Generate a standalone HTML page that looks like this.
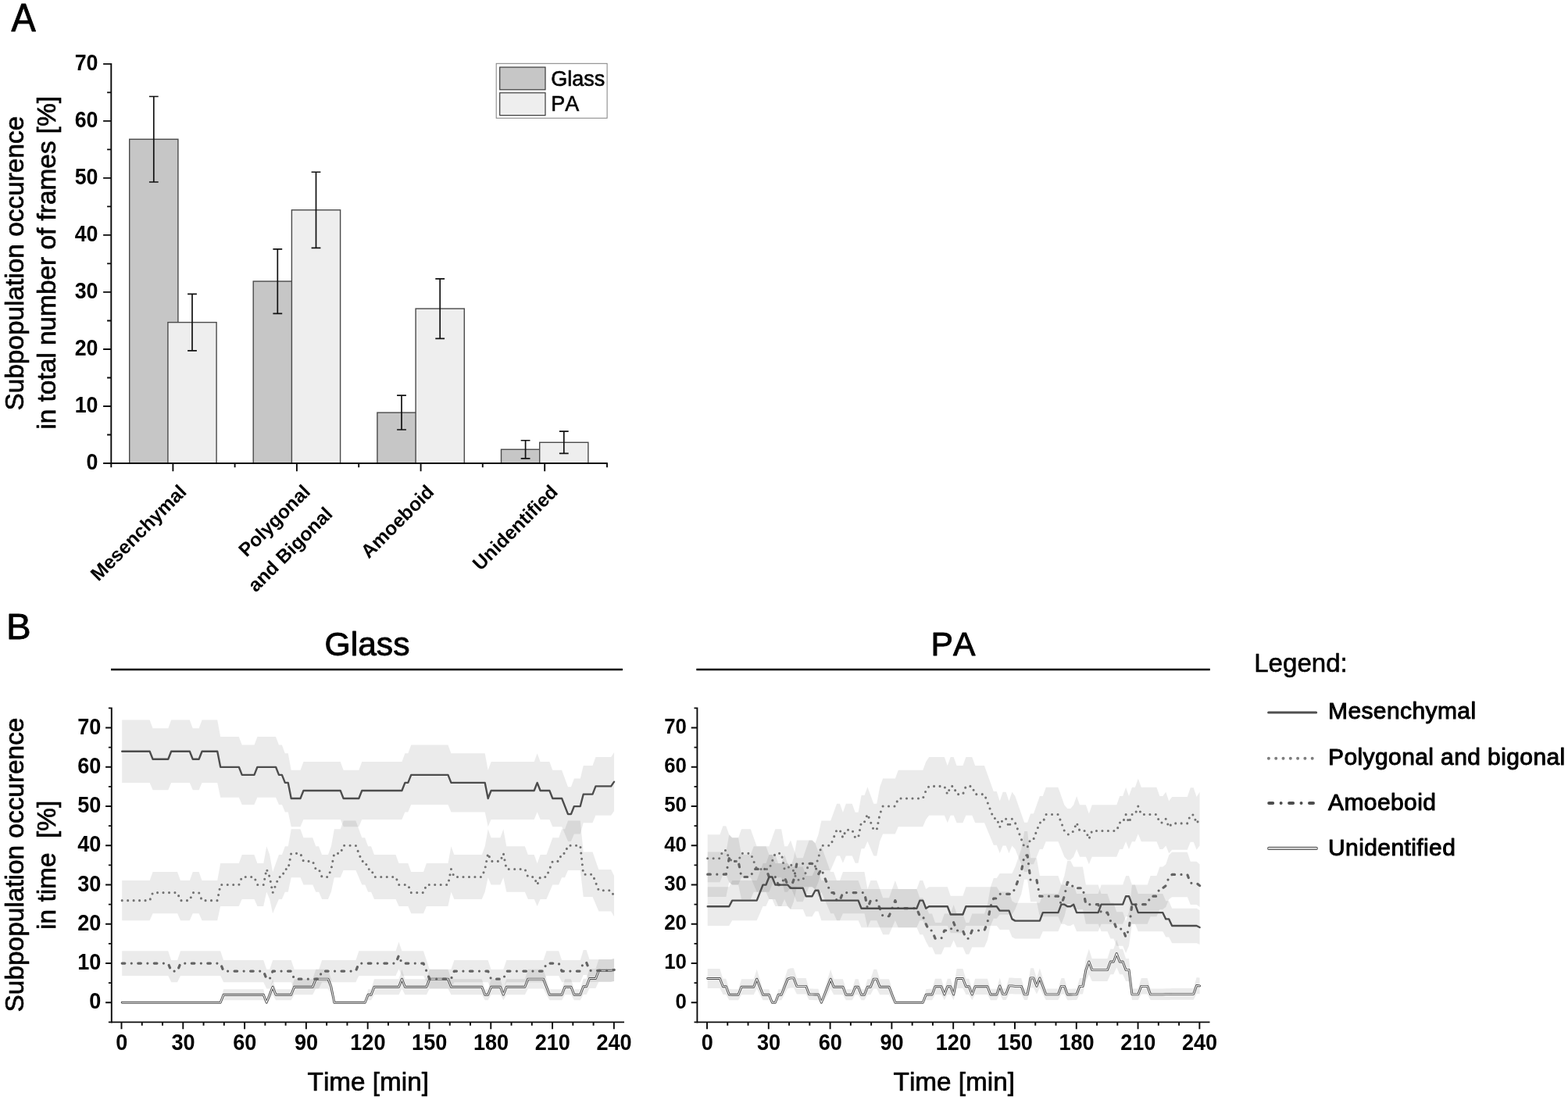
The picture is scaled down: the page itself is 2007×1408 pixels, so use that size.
<!DOCTYPE html>
<html lang="en">
<head>
<meta charset="utf-8">
<title>Subpopulation occurence</title>
<style>
html,body{margin:0;padding:0;background:#fff;}
body{width:2007px;height:1408px;overflow:hidden;}
svg{display:block;}
svg text{font-family:'Liberation Sans', Arial, Helvetica, sans-serif;fill:#000;font-kerning:none;}
</style>
</head>
<body>
<svg width="2007" height="1408" viewBox="0 0 2007 1408">
<rect width="2007" height="1408" fill="#fff"/>
<g id="panelA">
<text transform="translate(14.6 39.6) scale(1 1.05)" font-size="46.8" stroke="#000" stroke-width="0.8" stroke-linejoin="round">A</text>
<text transform="translate(30.1 337.2) rotate(-90)" font-size="33.4" text-anchor="middle" stroke="#000" stroke-width="0.7" stroke-linejoin="round">Subpopulation occurence</text>
<text transform="translate(71.1 336.3) rotate(-90)" font-size="33.4" text-anchor="middle" stroke="#000" stroke-width="0.7" stroke-linejoin="round">in total number of frames [%]</text>
<rect x="165.7" y="178.25" width="62.2" height="414.7" fill="#c6c6c6" stroke="#4a4a4a" stroke-width="1.4"/>
<rect x="214.9" y="412.62" width="62.2" height="180.33" fill="#eeeeee" stroke="#4a4a4a" stroke-width="1.4"/>
<rect x="324.2" y="360.05" width="62.2" height="232.9" fill="#c6c6c6" stroke="#4a4a4a" stroke-width="1.4"/>
<rect x="373.4" y="268.79" width="62.2" height="324.16" fill="#eeeeee" stroke="#4a4a4a" stroke-width="1.4"/>
<rect x="482.9" y="528.12" width="62.2" height="64.83" fill="#c6c6c6" stroke="#4a4a4a" stroke-width="1.4"/>
<rect x="532.1" y="395.09" width="62.2" height="197.86" fill="#eeeeee" stroke="#4a4a4a" stroke-width="1.4"/>
<rect x="641.5" y="575.28" width="62.2" height="17.67" fill="#c6c6c6" stroke="#4a4a4a" stroke-width="1.4"/>
<rect x="690.7" y="566.3" width="62.2" height="26.65" fill="#eeeeee" stroke="#4a4a4a" stroke-width="1.4"/>
<path d="M196.8 123.5V233.01M190.9 123.5h11.8M190.9 233.01h11.8M246 376.33V448.9M240.1 376.33h11.8M240.1 448.9h11.8M355.3 318.8V401.3M349.4 318.8h11.8M349.4 401.3h11.8M404.5 220.23V317.34M398.6 220.23h11.8M398.6 317.34h11.8M514 506.21V550.02M508.1 506.21h11.8M508.1 550.02h11.8M563.2 356.91V433.28M557.3 356.91h11.8M557.3 433.28h11.8M672.6 563.75V586.82M666.7 563.75h11.8M666.7 586.82h11.8M721.8 552.14V580.47M715.9 552.14h11.8M715.9 580.47h11.8" stroke="#111" stroke-width="1.7" fill="none"/>
<text transform="translate(125.5 600.6) scale(1 1.07)" font-size="26.8" text-anchor="end" font-weight="bold">0</text>
<text transform="translate(125.5 527.59) scale(1 1.07)" font-size="26.8" text-anchor="end" font-weight="bold">10</text>
<text transform="translate(125.5 454.58) scale(1 1.07)" font-size="26.8" text-anchor="end" font-weight="bold">20</text>
<text transform="translate(125.5 381.57) scale(1 1.07)" font-size="26.8" text-anchor="end" font-weight="bold">30</text>
<text transform="translate(125.5 308.56) scale(1 1.07)" font-size="26.8" text-anchor="end" font-weight="bold">40</text>
<text transform="translate(125.5 235.55) scale(1 1.07)" font-size="26.8" text-anchor="end" font-weight="bold">50</text>
<text transform="translate(125.5 162.54) scale(1 1.07)" font-size="26.8" text-anchor="end" font-weight="bold">60</text>
<text transform="translate(125.5 89.53) scale(1 1.07)" font-size="26.8" text-anchor="end" font-weight="bold">70</text>
<path d="M142.3 80.93V593.9M132.1 592.95H777.8M132.1 592.95H142.3M132.1 519.94H142.3M132.1 446.93H142.3M132.1 373.92H142.3M132.1 300.91H142.3M132.1 227.9H142.3M132.1 154.89H142.3M132.1 81.88H142.3M137.1 556.45H142.3M137.1 483.44H142.3M137.1 410.43H142.3M137.1 337.42H142.3M137.1 264.41H142.3M137.1 191.4H142.3M137.1 118.39H142.3M221.4 592.95v10.2M379.9 592.95v10.2M538.6 592.95v10.2M697.2 592.95v10.2M142.3 592.95v5.2M300.6 592.95v5.2M459.2 592.95v5.2M617.8 592.95v5.2M777.0 592.95v5.2" stroke="#0a0a0a" stroke-width="1.9" fill="none"/>
<text transform="translate(240 631) rotate(-45)" font-size="24.6" text-anchor="end" font-weight="bold">Mesenchymal</text>
<text transform="translate(398.5 631) rotate(-45)" font-size="24.6" text-anchor="end" font-weight="bold">Polygonal</text>
<text transform="translate(427 659.5) rotate(-45)" font-size="24.6" text-anchor="end" font-weight="bold">and Bigonal</text>
<text transform="translate(557 631) rotate(-45)" font-size="24.6" text-anchor="end" font-weight="bold">Amoeboid</text>
<text transform="translate(715.5 631) rotate(-45)" font-size="24.6" text-anchor="end" font-weight="bold">Unidentified</text>
<rect x="635.2" y="81.3" width="141.9" height="69.9" fill="#fff" stroke="#7f7f7f" stroke-width="1"/>
<rect x="639.7" y="86" width="58.3" height="28.8" fill="#c6c6c6" stroke="#3a3a3a" stroke-width="1.2"/>
<rect x="639.7" y="118.8" width="58.3" height="28.8" fill="#eeeeee" stroke="#3a3a3a" stroke-width="1.2"/>
<text transform="translate(705.2 109.6)" font-size="27" stroke="#000" stroke-width="0.6" stroke-linejoin="round">Glass</text>
<text transform="translate(705.2 142.2)" font-size="27" stroke="#000" stroke-width="0.6" stroke-linejoin="round">PA</text>
</g>
<g id="panelB">
<text transform="translate(7.9 818) scale(1 0.99)" font-size="47.5" stroke="#000" stroke-width="0.8" stroke-linejoin="round">B</text>
<text transform="translate(30.1 1107) rotate(-90)" font-size="33.4" text-anchor="middle" stroke="#000" stroke-width="0.7" stroke-linejoin="round">Subpopulation occurence</text>
<text transform="translate(71.1 1107.3) rotate(-90)" font-size="33.4" text-anchor="middle" stroke="#000" stroke-width="0.7" stroke-linejoin="round" xml:space="preserve">in time  [%]</text>
<g>
<text transform="translate(470 839)" font-size="42.6" text-anchor="middle" stroke="#000" stroke-width="0.9" stroke-linejoin="round">Glass</text>
<path d="M142 857H797" stroke="#000" stroke-width="2.3" fill="none"/>
<polygon points="156.2,921.5 191.63,921.5 195.57,932.18 215.25,932.18 219.19,921.5 242.81,921.5 246.74,932.18 254.62,932.18 258.55,921.5 278.23,921.5 282.17,942.88 305.79,942.88 309.73,953.58 325.47,953.58 329.41,942.88 353.03,942.88 356.97,953.58 360.9,953.58 364.84,964.3 368.78,964.3 372.71,985.76 384.52,985.76 388.46,975.02 435.7,975.02 439.64,985.76 459.32,985.76 463.25,975.02 514.43,975.02 518.37,964.3 522.3,964.3 526.24,953.58 573.48,953.58 577.42,964.3 620.72,964.3 624.66,985.76 628.59,975.02 683.7,975.02 687.64,964.3 691.58,975.02 703.39,975.02 707.32,985.76 719.13,985.76 723.07,996.52 727.01,1007.29 730.94,1007.29 734.88,996.52 742.75,996.52 746.69,980.07 758.5,980.07 762.44,969.12 782.12,969.12 786.06,962.96 786.06,1038.33 782.12,1043.72 762.44,1043.72 758.5,1053.28 746.69,1053.28 742.75,1067.58 734.88,1067.58 730.94,1076.91 727.01,1076.91 723.07,1067.58 719.13,1058.24 707.32,1058.24 703.39,1048.88 691.58,1048.88 687.64,1039.5 683.7,1048.88 628.59,1048.88 624.66,1058.24 620.72,1039.5 577.42,1039.5 573.48,1030.12 526.24,1030.12 522.3,1039.5 518.37,1039.5 514.43,1048.88 463.25,1048.88 459.32,1058.24 439.64,1058.24 435.7,1048.88 388.46,1048.88 384.52,1058.24 372.71,1058.24 368.78,1039.5 364.84,1039.5 360.9,1030.12 356.97,1030.12 353.03,1020.72 329.41,1020.72 325.47,1030.12 309.73,1030.12 305.79,1020.72 282.17,1020.72 278.23,1001.9 258.55,1001.9 254.62,1011.32 246.74,1011.32 242.81,1001.9 219.19,1001.9 215.25,1011.32 195.57,1011.32 191.63,1001.9 156.2,1001.9" fill="#000" fill-opacity="0.078"/>
<polygon points="156.2,1127.03 191.63,1127.03 195.57,1116.01 227.06,1116.01 231,1127.03 242.81,1127.03 246.74,1116.01 254.62,1116.01 258.55,1127.03 278.23,1127.03 282.17,1105.03 305.79,1105.03 309.73,1094.07 325.47,1094.07 329.41,1105.03 337.28,1105.03 341.22,1083.15 345.16,1094.07 349.09,1116.01 353.03,1105.03 356.97,1094.07 360.9,1094.07 364.84,1083.15 368.78,1083.15 372.71,1061.37 384.52,1061.37 388.46,1072.25 400.27,1072.25 404.21,1083.15 408.14,1083.15 412.08,1094.07 419.95,1094.07 423.89,1083.15 427.83,1061.37 435.7,1061.37 439.64,1050.52 455.38,1050.52 459.32,1061.37 463.25,1072.25 467.19,1072.25 471.13,1083.15 475.06,1083.15 479,1094.07 506.56,1094.07 510.49,1105.03 522.3,1105.03 526.24,1116.01 541.99,1116.01 545.92,1105.03 573.48,1105.03 577.42,1083.15 581.35,1094.07 616.78,1094.07 620.72,1083.15 624.66,1061.37 628.59,1072.25 640.4,1072.25 644.34,1061.37 648.27,1083.15 671.89,1083.15 675.83,1094.07 683.7,1094.07 687.64,1105.03 691.58,1094.07 699.45,1094.07 703.39,1083.15 707.32,1072.25 715.2,1072.25 719.13,1061.37 723.07,1061.37 727.01,1050.52 742.75,1050.52 746.69,1090.52 758.5,1090.52 762.44,1101.68 766.37,1112.88 782.12,1112.88 786.06,1121.07 786.06,1173.37 782.12,1166.59 766.37,1166.59 762.44,1157.29 758.5,1147.95 746.69,1147.95 742.75,1114.08 727.01,1114.08 723.07,1123.33 719.13,1123.33 715.2,1132.55 707.32,1132.55 703.39,1141.75 699.45,1150.93 691.58,1150.93 687.64,1160.07 683.7,1150.93 675.83,1150.93 671.89,1141.75 648.27,1141.75 644.34,1123.33 640.4,1132.55 628.59,1132.55 624.66,1123.33 620.72,1141.75 616.78,1150.93 581.35,1150.93 577.42,1141.75 573.48,1160.07 545.92,1160.07 541.99,1169.19 526.24,1169.19 522.3,1160.07 510.49,1160.07 506.56,1150.93 479,1150.93 475.06,1141.75 471.13,1141.75 467.19,1132.55 463.25,1132.55 459.32,1123.33 455.38,1114.08 439.64,1114.08 435.7,1123.33 427.83,1123.33 423.89,1141.75 419.95,1150.93 412.08,1150.93 408.14,1141.75 404.21,1141.75 400.27,1132.55 388.46,1132.55 384.52,1123.33 372.71,1123.33 368.78,1141.75 364.84,1141.75 360.9,1150.93 356.97,1150.93 353.03,1160.07 349.09,1169.19 345.16,1150.93 341.22,1141.75 337.28,1160.07 329.41,1160.07 325.47,1150.93 309.73,1150.93 305.79,1160.07 282.17,1160.07 278.23,1178.27 258.55,1178.27 254.62,1169.19 246.74,1169.19 242.81,1178.27 231,1178.27 227.06,1169.19 195.57,1169.19 191.63,1178.27 156.2,1178.27" fill="#000" fill-opacity="0.078"/>
<polygon points="156.2,1217.16 215.25,1217.16 219.19,1228.89 227.06,1228.89 231,1217.16 282.17,1217.16 286.11,1228.89 337.28,1228.89 341.22,1240.84 345.16,1240.84 349.09,1228.89 372.71,1228.89 376.65,1240.84 408.14,1240.84 412.08,1228.89 455.38,1228.89 459.32,1217.16 506.56,1217.16 510.49,1205.59 514.43,1217.16 541.99,1217.16 545.92,1228.89 549.86,1240.84 577.42,1240.84 581.35,1228.89 624.66,1228.89 628.59,1240.84 644.34,1240.84 648.27,1228.89 695.51,1228.89 699.45,1217.16 715.2,1217.16 719.13,1228.89 742.75,1228.89 746.69,1216 750.63,1216 754.56,1227.94 782.12,1227.94 786.06,1226.94 786.06,1255.94 782.12,1256.65 754.56,1256.65 750.63,1248.09 746.69,1248.09 742.75,1257.31 719.13,1257.31 715.2,1248.94 699.45,1248.94 695.51,1257.31 648.27,1257.31 644.34,1265.46 628.59,1265.46 624.66,1257.31 581.35,1257.31 577.42,1265.46 549.86,1265.46 545.92,1257.31 541.99,1248.94 514.43,1248.94 510.49,1240.41 506.56,1248.94 459.32,1248.94 455.38,1257.31 412.08,1257.31 408.14,1265.46 376.65,1265.46 372.71,1257.31 349.09,1257.31 345.16,1265.46 341.22,1265.46 337.28,1257.31 286.11,1257.31 282.17,1248.94 231,1248.94 227.06,1257.31 219.19,1257.31 215.25,1248.94 156.2,1248.94" fill="#000" fill-opacity="0.078"/>
<polygon points="156.2,1283.3 282.17,1283.3 286.11,1266.14 337.28,1266.14 341.22,1283.3 345.16,1266.14 349.09,1253.15 353.03,1266.14 372.71,1266.14 376.65,1253.15 400.27,1253.15 404.21,1240.84 419.95,1240.84 423.89,1253.15 427.83,1283.3 467.19,1283.3 471.13,1266.14 475.06,1266.14 479,1253.15 510.49,1253.15 514.43,1240.84 518.37,1253.15 545.92,1253.15 549.86,1240.84 573.48,1240.84 577.42,1253.15 616.78,1253.15 620.72,1266.14 624.66,1266.14 628.59,1253.15 640.4,1253.15 644.34,1266.14 648.27,1253.15 671.89,1253.15 675.83,1240.84 695.51,1240.84 699.45,1253.15 703.39,1266.14 719.13,1266.14 723.07,1253.15 730.94,1253.15 734.88,1266.14 742.75,1266.14 746.69,1252.65 750.63,1252.65 754.56,1240.12 762.44,1240.12 766.37,1227.94 782.12,1227.94 786.06,1226.94 786.06,1255.94 782.12,1256.65 766.37,1256.65 762.44,1264.98 754.56,1264.98 750.63,1272.95 746.69,1272.95 742.75,1280.36 734.88,1280.36 730.94,1273.25 723.07,1273.25 719.13,1280.36 703.39,1280.36 699.45,1273.25 695.51,1265.46 675.83,1265.46 671.89,1273.25 648.27,1273.25 644.34,1280.36 640.4,1273.25 628.59,1273.25 624.66,1280.36 620.72,1280.36 616.78,1273.25 577.42,1273.25 573.48,1265.46 549.86,1265.46 545.92,1273.25 518.37,1273.25 514.43,1265.46 510.49,1273.25 479,1273.25 475.06,1280.36 471.13,1280.36 467.19,1283.3 427.83,1283.3 423.89,1273.25 419.95,1265.46 404.21,1265.46 400.27,1273.25 376.65,1273.25 372.71,1280.36 353.03,1280.36 349.09,1273.25 345.16,1280.36 341.22,1283.3 337.28,1280.36 286.11,1280.36 282.17,1283.3 156.2,1283.3" fill="#000" fill-opacity="0.078"/>
<polyline points="156.2,1152.65 191.63,1152.65 195.57,1142.6 227.06,1142.6 231,1152.65 242.81,1152.65 246.74,1142.6 254.62,1142.6 258.55,1152.65 278.23,1152.65 282.17,1132.55 305.79,1132.55 309.73,1122.5 325.47,1122.5 329.41,1132.55 337.28,1132.55 341.22,1112.45 345.16,1122.5 349.09,1142.6 356.97,1122.5 360.9,1122.5 364.84,1112.45 368.78,1112.45 372.71,1092.35 384.52,1092.35 388.46,1102.4 400.27,1102.4 404.21,1112.45 408.14,1112.45 412.08,1122.5 419.95,1122.5 423.89,1112.45 427.83,1092.35 435.7,1092.35 439.64,1082.3 455.38,1082.3 463.25,1102.4 467.19,1102.4 471.13,1112.45 475.06,1112.45 479,1122.5 506.56,1122.5 510.49,1132.55 522.3,1132.55 526.24,1142.6 541.99,1142.6 545.92,1132.55 573.48,1132.55 577.42,1112.45 581.35,1122.5 616.78,1122.5 620.72,1112.45 624.66,1092.35 628.59,1102.4 640.4,1102.4 644.34,1092.35 648.27,1112.45 671.89,1112.45 675.83,1122.5 683.7,1122.5 687.64,1132.55 691.58,1122.5 699.45,1122.5 707.32,1102.4 715.2,1102.4 719.13,1092.35 723.07,1092.35 727.01,1082.3 742.75,1082.3 746.69,1119.23 758.5,1119.23 766.37,1139.74 782.12,1139.74 786.06,1147.22" fill="none" stroke="#727272" stroke-width="3.1" stroke-linecap="round" stroke-linejoin="round" stroke-dasharray="0 7.46"/>
<polyline points="156.2,1283.3 282.17,1283.3 286.11,1273.25 337.28,1273.25 341.22,1283.3 349.09,1263.2 353.03,1273.25 372.71,1273.25 376.65,1263.2 400.27,1263.2 404.21,1253.15 419.95,1253.15 423.89,1263.2 427.83,1283.3 467.19,1283.3 471.13,1273.25 475.06,1273.25 479,1263.2 510.49,1263.2 514.43,1253.15 518.37,1263.2 545.92,1263.2 549.86,1253.15 573.48,1253.15 577.42,1263.2 616.78,1263.2 620.72,1273.25 624.66,1273.25 628.59,1263.2 640.4,1263.2 644.34,1273.25 648.27,1263.2 671.89,1263.2 675.83,1253.15 695.51,1253.15 703.39,1273.25 719.13,1273.25 723.07,1263.2 730.94,1263.2 734.88,1273.25 742.75,1273.25 746.69,1262.8 750.63,1262.8 754.56,1252.55 762.44,1252.55 766.37,1242.3 782.12,1242.3 786.06,1241.44" fill="none" stroke="#4a4a4a" stroke-width="2.9" stroke-linejoin="round" stroke-linecap="round"/>
<polyline points="156.2,1283.3 282.17,1283.3 286.11,1273.25 337.28,1273.25 341.22,1283.3 349.09,1263.2 353.03,1273.25 372.71,1273.25 376.65,1263.2 400.27,1263.2 404.21,1253.15 419.95,1253.15 423.89,1263.2 427.83,1283.3 467.19,1283.3 471.13,1273.25 475.06,1273.25 479,1263.2 510.49,1263.2 514.43,1253.15 518.37,1263.2 545.92,1263.2 549.86,1253.15 573.48,1253.15 577.42,1263.2 616.78,1263.2 620.72,1273.25 624.66,1273.25 628.59,1263.2 640.4,1263.2 644.34,1273.25 648.27,1263.2 671.89,1263.2 675.83,1253.15 695.51,1253.15 703.39,1273.25 719.13,1273.25 723.07,1263.2 730.94,1263.2 734.88,1273.25 742.75,1273.25 746.69,1262.8 750.63,1262.8 754.56,1252.55 762.44,1252.55 766.37,1242.3 782.12,1242.3 786.06,1241.44" fill="none" stroke="#f1f1f1" stroke-width="1.1" stroke-linejoin="round" stroke-linecap="round"/>
<polyline points="156.2,1233.05 215.25,1233.05 219.19,1243.1 227.06,1243.1 231,1233.05 282.17,1233.05 286.11,1243.1 337.28,1243.1 341.22,1253.15 345.16,1253.15 349.09,1243.1 372.71,1243.1 376.65,1253.15 408.14,1253.15 412.08,1243.1 455.38,1243.1 459.32,1233.05 506.56,1233.05 510.49,1223 514.43,1233.05 541.99,1233.05 549.86,1253.15 577.42,1253.15 581.35,1243.1 624.66,1243.1 628.59,1253.15 644.34,1253.15 648.27,1243.1 695.51,1243.1 699.45,1233.05 715.2,1233.05 719.13,1243.1 742.75,1243.1 746.69,1232.04 750.63,1232.04 754.56,1242.3 782.12,1242.3 786.06,1241.44" fill="none" stroke="#636363" stroke-width="3.2" stroke-linecap="round" stroke-linejoin="round" stroke-dasharray="3.65 8.45 0 8.45"/>
<polyline points="156.2,961.7 191.63,961.7 195.57,971.75 215.25,971.75 219.19,961.7 242.81,961.7 246.74,971.75 254.62,971.75 258.55,961.7 278.23,961.7 282.17,981.8 305.79,981.8 309.73,991.85 325.47,991.85 329.41,981.8 353.03,981.8 356.97,991.85 360.9,991.85 364.84,1001.9 368.78,1001.9 372.71,1022 384.52,1022 388.46,1011.95 435.7,1011.95 439.64,1022 459.32,1022 463.25,1011.95 514.43,1011.95 518.37,1001.9 522.3,1001.9 526.24,991.85 573.48,991.85 577.42,1001.9 620.72,1001.9 624.66,1022 628.59,1011.95 683.7,1011.95 687.64,1001.9 691.58,1011.95 703.39,1011.95 707.32,1022 719.13,1022 727.01,1042.1 730.94,1042.1 734.88,1032.05 742.75,1032.05 746.69,1016.67 758.5,1016.67 762.44,1006.42 782.12,1006.42 786.06,1000.64" fill="none" stroke="#4c4c4c" stroke-width="2.35" stroke-linejoin="round" stroke-linecap="round"/>
<text transform="translate(129.3 1291.4) scale(1 1.1)" font-size="27.1" text-anchor="end" font-weight="bold">0</text>
<text transform="translate(129.3 1241.15) scale(1 1.1)" font-size="27.1" text-anchor="end" font-weight="bold">10</text>
<text transform="translate(129.3 1190.9) scale(1 1.1)" font-size="27.1" text-anchor="end" font-weight="bold">20</text>
<text transform="translate(129.3 1140.65) scale(1 1.1)" font-size="27.1" text-anchor="end" font-weight="bold">30</text>
<text transform="translate(129.3 1090.4) scale(1 1.1)" font-size="27.1" text-anchor="end" font-weight="bold">40</text>
<text transform="translate(129.3 1040.15) scale(1 1.1)" font-size="27.1" text-anchor="end" font-weight="bold">50</text>
<text transform="translate(129.3 989.9) scale(1 1.1)" font-size="27.1" text-anchor="end" font-weight="bold">60</text>
<text transform="translate(129.3 939.65) scale(1 1.1)" font-size="27.1" text-anchor="end" font-weight="bold">70</text>
<path d="M142.8 905.47V1309.38M138.9 1308.42H798.99M135.1 1283.3H142.8M135.1 1233.05H142.8M135.1 1182.8H142.8M135.1 1132.55H142.8M135.1 1082.3H142.8M135.1 1032.05H142.8M135.1 981.8H142.8M135.1 931.55H142.8M138.9 1308.42H142.8M138.9 1258.17H142.8M138.9 1207.92H142.8M138.9 1157.67H142.8M138.9 1107.42H142.8M138.9 1057.17H142.8M138.9 1006.92H142.8M138.9 956.67H142.8M138.9 906.42H142.8M155.5 1308.42v8.9M181.76 1308.42v4.4M208.03 1308.42v4.4M234.3 1308.42v8.9M260.56 1308.42v4.4M286.82 1308.42v4.4M313.09 1308.42v8.9M339.36 1308.42v4.4M365.62 1308.42v4.4M391.88 1308.42v8.9M418.15 1308.42v4.4M444.42 1308.42v4.4M470.68 1308.42v8.9M496.94 1308.42v4.4M523.21 1308.42v4.4M549.48 1308.42v8.9M575.74 1308.42v4.4M602 1308.42v4.4M628.27 1308.42v8.9M654.54 1308.42v4.4M680.8 1308.42v4.4M707.07 1308.42v8.9M733.33 1308.42v4.4M759.6 1308.42v4.4M785.86 1308.42v8.9" stroke="#0a0a0a" stroke-width="1.9" fill="none"/>
<text transform="translate(155.7 1343.9) scale(1 1.1)" font-size="27.1" text-anchor="middle" font-weight="bold">0</text>
<text transform="translate(234.5 1343.9) scale(1 1.1)" font-size="27.1" text-anchor="middle" font-weight="bold">30</text>
<text transform="translate(313.29 1343.9) scale(1 1.1)" font-size="27.1" text-anchor="middle" font-weight="bold">60</text>
<text transform="translate(392.08 1343.9) scale(1 1.1)" font-size="27.1" text-anchor="middle" font-weight="bold">90</text>
<text transform="translate(470.88 1343.9) scale(1 1.1)" font-size="27.1" text-anchor="middle" font-weight="bold">120</text>
<text transform="translate(549.68 1343.9) scale(1 1.1)" font-size="27.1" text-anchor="middle" font-weight="bold">150</text>
<text transform="translate(628.47 1343.9) scale(1 1.1)" font-size="27.1" text-anchor="middle" font-weight="bold">180</text>
<text transform="translate(707.27 1343.9) scale(1 1.1)" font-size="27.1" text-anchor="middle" font-weight="bold">210</text>
<text transform="translate(786.06 1343.9) scale(1 1.1)" font-size="27.1" text-anchor="middle" font-weight="bold">240</text>
<text transform="translate(471.3 1395.5)" font-size="33.3" text-anchor="middle" stroke="#000" stroke-width="0.7" stroke-linejoin="round">Time [min]</text>
</g>
<g>
<text transform="translate(1220 839)" font-size="42.6" text-anchor="middle" stroke="#000" stroke-width="0.9" stroke-linejoin="round">PA</text>
<path d="M891.3 857H1548.8" stroke="#000" stroke-width="2.3" fill="none"/>
<polygon points="905.7,1135.37 933.26,1135.37 937.19,1127.03 968.69,1127.03 972.62,1116.01 976.56,1105.03 980.5,1105.03 984.43,1094.07 988.37,1094.07 992.31,1105.03 1008.05,1105.03 1011.99,1109.6 1027.73,1109.6 1031.67,1121.06 1039.54,1121.06 1043.48,1112.87 1047.42,1112.87 1051.35,1127.03 1098.59,1127.03 1102.53,1138.08 1173.39,1138.08 1177.33,1127.03 1181.26,1127.03 1185.2,1138.08 1189.14,1135.37 1212.75,1135.37 1216.69,1146.69 1232.44,1146.69 1236.37,1135.37 1275.74,1135.37 1279.68,1141.38 1291.49,1141.38 1295.42,1153.21 1299.36,1155.68 1330.85,1155.68 1334.79,1144.09 1354.47,1144.09 1358.41,1132.55 1362.35,1132.55 1366.28,1135.37 1370.22,1135.37 1374.16,1132.55 1378.09,1144.09 1405.65,1144.09 1409.58,1132.55 1437.14,1132.55 1441.08,1121.06 1445.01,1121.06 1448.95,1132.55 1452.89,1132.55 1456.82,1144.09 1488.32,1144.09 1492.25,1153.21 1496.19,1153.21 1500.13,1162.76 1531.62,1162.76 1535.56,1165.09 1535.56,1209.07 1531.62,1207.21 1500.13,1207.21 1496.19,1199.56 1492.25,1199.56 1488.32,1192.2 1456.82,1192.2 1452.89,1182.8 1448.95,1182.8 1445.01,1173.36 1441.08,1173.36 1437.14,1182.8 1409.58,1182.8 1405.65,1192.2 1378.09,1192.2 1374.16,1182.8 1370.22,1185.11 1366.28,1185.11 1362.35,1182.8 1358.41,1182.8 1354.47,1192.2 1334.79,1192.2 1330.85,1201.55 1299.36,1201.55 1295.42,1199.56 1291.49,1190 1279.68,1190 1275.74,1185.11 1236.37,1185.11 1232.44,1194.3 1216.69,1194.3 1212.75,1185.11 1189.14,1185.11 1185.2,1187.32 1181.26,1178.27 1177.33,1178.27 1173.39,1187.32 1102.53,1187.32 1098.59,1178.27 1051.35,1178.27 1047.42,1166.59 1043.48,1166.59 1039.54,1173.36 1031.67,1173.36 1027.73,1163.88 1011.99,1163.88 1008.05,1160.07 992.31,1160.07 988.37,1150.93 984.43,1150.93 980.5,1160.07 976.56,1160.07 972.62,1169.19 968.69,1178.27 937.19,1178.27 933.26,1185.11 905.7,1185.11" fill="#000" fill-opacity="0.078"/>
<polygon points="905.7,1068.25 921.45,1068.25 925.38,1057.16 929.32,1057.16 933.26,1068.25 937.19,1072.25 945.07,1072.25 949,1061.37 960.81,1061.37 964.75,1072.25 968.69,1083.15 984.43,1083.15 988.37,1072.25 992.31,1061.37 1000.18,1061.37 1004.12,1083.15 1008.05,1083.15 1011.99,1075.43 1015.92,1086.79 1019.86,1098.18 1027.73,1098.18 1031.67,1086.79 1035.61,1075.43 1039.54,1075.43 1043.48,1079.37 1047.42,1068.25 1051.35,1050.52 1063.16,1050.52 1067.1,1039.68 1071.04,1028.87 1074.97,1028.87 1078.91,1039.68 1082.85,1028.87 1090.72,1028.87 1094.66,1039.68 1098.59,1039.68 1102.53,1018.07 1106.47,1018.07 1110.4,1007.29 1114.34,1018.07 1118.28,1028.87 1122.21,1028.87 1126.15,1007.29 1130.09,996.52 1145.83,996.52 1149.77,985.76 1181.26,985.76 1185.2,975.02 1189.14,969.11 1208.82,969.11 1212.75,980.06 1216.69,969.11 1220.63,969.11 1224.56,980.06 1232.44,980.06 1236.37,969.11 1244.25,969.11 1248.18,980.06 1259.99,980.06 1263.93,991.03 1267.87,1002.01 1271.8,1013.01 1275.74,1013.01 1279.68,1025.19 1283.61,1013.71 1287.55,1013.71 1291.49,1025.19 1295.42,1013.71 1299.36,1018.97 1303.3,1030.22 1307.23,1041.49 1311.17,1052.78 1315.11,1052.78 1319.04,1041.49 1322.98,1041.49 1326.92,1030.22 1330.85,1018.97 1334.79,1018.97 1338.73,1007.73 1354.47,1007.73 1358.41,1018.97 1362.35,1030.22 1366.28,1035.05 1370.22,1035.05 1374.16,1030.22 1378.09,1018.97 1382.03,1030.22 1389.9,1030.22 1393.84,1041.49 1397.78,1030.22 1429.27,1030.22 1433.2,1018.97 1437.14,1018.97 1441.08,1007.73 1445.01,1018.97 1448.95,1007.73 1452.89,1007.73 1456.82,996.52 1460.76,1007.73 1480.44,1007.73 1484.38,1018.97 1488.32,1018.97 1492.25,1013.71 1496.19,1025.19 1500.13,1019.95 1519.81,1019.95 1523.75,1008.22 1527.68,1008.22 1531.62,1019.95 1535.56,1013.71 1535.56,1082.47 1531.62,1087.85 1527.68,1077.73 1523.75,1077.73 1519.81,1087.85 1500.13,1087.85 1496.19,1092.37 1492.25,1082.47 1488.32,1087.01 1484.38,1087.01 1480.44,1077.3 1460.76,1077.3 1456.82,1067.58 1452.89,1077.3 1448.95,1077.3 1445.01,1087.01 1441.08,1077.3 1437.14,1087.01 1433.2,1087.01 1429.27,1096.69 1397.78,1096.69 1393.84,1106.36 1389.9,1096.69 1382.03,1096.69 1378.09,1087.01 1374.16,1096.69 1370.22,1100.84 1366.28,1100.84 1362.35,1096.69 1358.41,1087.01 1354.47,1077.3 1338.73,1077.3 1334.79,1087.01 1330.85,1087.01 1326.92,1096.69 1322.98,1106.36 1319.04,1106.36 1315.11,1116.01 1311.17,1116.01 1307.23,1106.36 1303.3,1096.69 1299.36,1087.01 1295.42,1082.47 1291.49,1092.37 1287.55,1082.47 1283.61,1082.47 1279.68,1092.37 1275.74,1081.86 1271.8,1081.86 1267.87,1072.35 1263.93,1062.82 1259.99,1053.27 1248.18,1053.27 1244.25,1043.71 1236.37,1043.71 1232.44,1053.27 1224.56,1053.27 1220.63,1043.71 1216.69,1043.71 1212.75,1053.27 1208.82,1043.71 1189.14,1043.71 1185.2,1048.88 1181.26,1058.24 1149.77,1058.24 1145.83,1067.58 1130.09,1067.58 1126.15,1076.91 1122.21,1095.53 1118.28,1095.53 1114.34,1086.23 1110.4,1076.91 1106.47,1086.23 1102.53,1086.23 1098.59,1104.82 1094.66,1104.82 1090.72,1095.53 1082.85,1095.53 1078.91,1104.82 1074.97,1095.53 1071.04,1095.53 1067.1,1104.82 1063.16,1114.08 1051.35,1114.08 1047.42,1129.16 1043.48,1138.56 1039.54,1135.24 1035.61,1135.24 1031.67,1144.81 1027.73,1154.36 1019.86,1154.36 1015.92,1144.81 1011.99,1135.24 1008.05,1141.75 1004.12,1141.75 1000.18,1123.33 992.31,1123.33 988.37,1132.55 984.43,1141.75 968.69,1141.75 964.75,1132.55 960.81,1123.33 949,1123.33 945.07,1132.55 937.19,1132.55 933.26,1129.16 929.32,1119.74 925.38,1119.74 921.45,1129.16 905.7,1129.16" fill="#000" fill-opacity="0.078"/>
<polygon points="905.7,1090.5 929.32,1090.5 933.26,1068.25 937.19,1072.25 945.07,1072.25 949,1094.07 960.81,1094.07 964.75,1083.15 980.5,1083.15 984.43,1094.07 992.31,1094.07 996.24,1105.03 1000.18,1105.03 1004.12,1094.07 1008.05,1105.03 1011.99,1109.6 1015.92,1098.18 1019.86,1075.43 1039.54,1075.43 1043.48,1079.37 1047.42,1090.5 1051.35,1083.15 1055.29,1094.07 1059.23,1105.03 1063.16,1116.01 1067.1,1116.01 1071.04,1127.03 1074.97,1127.03 1078.91,1116.01 1106.47,1116.01 1110.4,1138.08 1114.34,1127.03 1122.21,1127.03 1126.15,1138.08 1130.09,1149.18 1137.96,1149.18 1141.9,1138.08 1145.83,1127.03 1149.77,1138.08 1173.39,1138.08 1177.33,1149.18 1181.26,1149.18 1185.2,1160.33 1189.14,1169.47 1193.07,1169.47 1197.01,1180.96 1204.88,1180.96 1208.82,1169.47 1216.69,1169.47 1220.63,1158.05 1224.56,1169.47 1232.44,1169.47 1236.37,1180.96 1240.31,1180.96 1244.25,1169.47 1259.99,1169.47 1263.93,1158.05 1267.87,1135.37 1271.8,1124.1 1275.74,1124.1 1279.68,1117.88 1295.42,1117.88 1299.36,1109.6 1303.3,1098.18 1307.23,1086.79 1311.17,1064.09 1315.11,1064.09 1319.04,1098.18 1326.92,1098.18 1330.85,1121.06 1354.47,1121.06 1358.41,1132.55 1362.35,1121.06 1366.28,1101.67 1370.22,1101.67 1374.16,1109.6 1385.97,1109.6 1389.9,1132.55 1405.65,1132.55 1409.58,1144.09 1417.46,1144.09 1421.39,1155.68 1425.33,1155.68 1429.27,1167.32 1437.14,1167.32 1441.08,1179.04 1445.01,1167.32 1448.95,1132.55 1468.63,1132.55 1472.57,1121.06 1480.44,1121.06 1484.38,1109.6 1488.32,1109.6 1492.25,1106.19 1496.19,1094.54 1500.13,1090.75 1519.81,1090.75 1523.75,1102.64 1531.62,1102.64 1535.56,1106.19 1535.56,1161.04 1531.62,1158.09 1523.75,1158.09 1519.81,1148.14 1500.13,1148.14 1496.19,1151.32 1492.25,1161.04 1488.32,1163.88 1484.38,1163.88 1480.44,1173.36 1472.57,1173.36 1468.63,1182.8 1448.95,1182.8 1445.01,1210.84 1441.08,1220.06 1437.14,1210.84 1429.27,1210.84 1425.33,1201.55 1421.39,1201.55 1417.46,1192.2 1409.58,1192.2 1405.65,1182.8 1389.9,1182.8 1385.97,1163.88 1374.16,1163.88 1370.22,1157.28 1366.28,1157.28 1362.35,1173.36 1358.41,1182.8 1354.47,1173.36 1330.85,1173.36 1326.92,1154.36 1319.04,1154.36 1315.11,1125.63 1311.17,1125.63 1307.23,1144.81 1303.3,1154.36 1299.36,1163.88 1295.42,1170.74 1279.68,1170.74 1275.74,1175.87 1271.8,1175.87 1267.87,1185.11 1263.93,1203.45 1259.99,1212.54 1244.25,1212.54 1240.31,1221.56 1236.37,1221.56 1232.44,1212.54 1224.56,1212.54 1220.63,1203.45 1216.69,1212.54 1208.82,1212.54 1204.88,1221.56 1197.01,1221.56 1193.07,1212.54 1189.14,1212.54 1185.2,1205.27 1181.26,1196.32 1177.33,1196.32 1173.39,1187.32 1149.77,1187.32 1145.83,1178.27 1141.9,1187.32 1137.96,1196.32 1130.09,1196.32 1126.15,1187.32 1122.21,1178.27 1114.34,1178.27 1110.4,1187.32 1106.47,1169.19 1078.91,1169.19 1074.97,1178.27 1071.04,1178.27 1067.1,1169.19 1063.16,1169.19 1059.23,1160.07 1055.29,1150.93 1051.35,1141.75 1047.42,1147.93 1043.48,1138.56 1039.54,1135.24 1019.86,1135.24 1015.92,1154.36 1011.99,1163.88 1008.05,1160.07 1004.12,1150.93 1000.18,1160.07 996.24,1160.07 992.31,1150.93 984.43,1150.93 980.5,1141.75 964.75,1141.75 960.81,1150.93 949,1150.93 945.07,1132.55 937.19,1132.55 933.26,1129.16 929.32,1147.93 905.7,1147.93" fill="#000" fill-opacity="0.078"/>
<polygon points="905.7,1240.1 921.45,1240.1 925.38,1252.64 929.32,1252.64 933.26,1265.87 937.19,1266.14 945.07,1266.14 949,1253.15 964.75,1253.15 968.69,1240.84 972.62,1253.15 976.56,1266.14 984.43,1266.14 988.37,1283.3 992.31,1283.3 996.24,1266.14 1000.18,1266.14 1004.12,1253.15 1008.05,1240.84 1011.99,1239.33 1015.92,1239.33 1019.86,1252.11 1031.67,1252.11 1035.61,1265.58 1039.54,1265.58 1043.48,1265.87 1047.42,1265.87 1051.35,1283.3 1055.29,1266.14 1059.23,1253.15 1063.16,1240.84 1067.1,1253.15 1078.91,1253.15 1082.85,1266.14 1090.72,1266.14 1094.66,1253.15 1098.59,1253.15 1102.53,1266.14 1106.47,1266.14 1110.4,1253.15 1114.34,1253.15 1118.28,1240.84 1122.21,1240.84 1126.15,1253.15 1137.96,1253.15 1141.9,1266.14 1145.83,1283.3 1181.26,1283.3 1185.2,1266.14 1189.14,1265.87 1193.07,1265.87 1197.01,1252.64 1204.88,1252.64 1208.82,1265.87 1212.75,1252.64 1216.69,1252.64 1220.63,1265.87 1224.56,1240.1 1232.44,1240.1 1236.37,1252.64 1240.31,1252.64 1244.25,1265.87 1248.18,1252.64 1263.93,1252.64 1267.87,1265.87 1275.74,1265.87 1279.68,1251.55 1283.61,1265.28 1287.55,1265.28 1291.49,1251.55 1295.42,1251.55 1299.36,1252.11 1307.23,1252.11 1311.17,1265.58 1315.11,1265.58 1319.04,1239.33 1322.98,1239.33 1326.92,1252.11 1330.85,1239.33 1334.79,1252.11 1338.73,1265.58 1354.47,1265.58 1358.41,1252.11 1362.35,1252.11 1366.28,1265.87 1370.22,1265.87 1374.16,1265.58 1378.09,1265.58 1382.03,1252.11 1385.97,1252.11 1389.9,1226.92 1393.84,1214.74 1397.78,1226.92 1417.46,1226.92 1421.39,1214.74 1425.33,1214.74 1429.27,1202.72 1433.2,1214.74 1437.14,1214.74 1441.08,1226.92 1445.01,1226.92 1448.95,1265.58 1456.82,1265.58 1460.76,1252.11 1468.63,1252.11 1472.57,1265.58 1488.32,1265.58 1492.25,1265.28 1496.19,1265.28 1500.13,1264.97 1527.68,1264.97 1531.62,1250.97 1535.56,1251.55 1535.56,1272.28 1531.62,1271.93 1527.68,1279.79 1500.13,1279.79 1496.19,1279.94 1492.25,1279.94 1488.32,1280.08 1472.57,1280.08 1468.63,1272.62 1460.76,1272.62 1456.82,1280.08 1448.95,1280.08 1445.01,1255.93 1441.08,1255.93 1437.14,1247.17 1433.2,1247.17 1429.27,1238.25 1425.33,1247.17 1421.39,1247.17 1417.46,1255.93 1397.78,1255.93 1393.84,1247.17 1389.9,1255.93 1385.97,1272.62 1382.03,1272.62 1378.09,1280.08 1374.16,1280.08 1370.22,1280.22 1366.28,1280.22 1362.35,1272.62 1358.41,1272.62 1354.47,1280.08 1338.73,1280.08 1334.79,1272.62 1330.85,1264.46 1326.92,1272.62 1322.98,1264.46 1319.04,1264.46 1315.11,1280.08 1311.17,1280.08 1307.23,1272.62 1299.36,1272.62 1295.42,1272.28 1291.49,1272.28 1287.55,1279.94 1283.61,1279.94 1279.68,1272.28 1275.74,1280.22 1267.87,1280.22 1263.93,1272.94 1248.18,1272.94 1244.25,1280.22 1240.31,1272.94 1236.37,1272.94 1232.44,1264.97 1224.56,1264.97 1220.63,1280.22 1216.69,1272.94 1212.75,1272.94 1208.82,1280.22 1204.88,1272.94 1197.01,1272.94 1193.07,1280.22 1189.14,1280.22 1185.2,1280.36 1181.26,1283.3 1145.83,1283.3 1141.9,1280.36 1137.96,1273.25 1126.15,1273.25 1122.21,1265.46 1118.28,1265.46 1114.34,1273.25 1110.4,1273.25 1106.47,1280.36 1102.53,1280.36 1098.59,1273.25 1094.66,1273.25 1090.72,1280.36 1082.85,1280.36 1078.91,1273.25 1067.1,1273.25 1063.16,1265.46 1059.23,1273.25 1055.29,1280.36 1051.35,1283.3 1047.42,1280.22 1043.48,1280.22 1039.54,1280.08 1035.61,1280.08 1031.67,1272.62 1019.86,1272.62 1015.92,1264.46 1011.99,1264.46 1008.05,1265.46 1004.12,1273.25 1000.18,1280.36 996.24,1280.36 992.31,1283.3 988.37,1283.3 984.43,1280.36 976.56,1280.36 972.62,1273.25 968.69,1265.46 964.75,1273.25 949,1273.25 945.07,1280.36 937.19,1280.36 933.26,1280.22 929.32,1272.94 925.38,1272.94 921.45,1264.97 905.7,1264.97" fill="#000" fill-opacity="0.078"/>
<polyline points="905.7,1098.71 921.45,1098.71 925.38,1088.45 929.32,1088.45 933.26,1098.71 937.19,1102.4 945.07,1102.4 949,1092.35 960.81,1092.35 968.69,1112.45 984.43,1112.45 992.31,1092.35 1000.18,1092.35 1004.12,1112.45 1008.05,1112.45 1011.99,1105.33 1019.86,1126.27 1027.73,1126.27 1035.61,1105.33 1039.54,1105.33 1043.48,1108.96 1047.42,1098.71 1051.35,1082.3 1063.16,1082.3 1071.04,1062.2 1074.97,1062.2 1078.91,1072.25 1082.85,1062.2 1090.72,1062.2 1094.66,1072.25 1098.59,1072.25 1102.53,1052.15 1106.47,1052.15 1110.4,1042.1 1118.28,1062.2 1122.21,1062.2 1126.15,1042.1 1130.09,1032.05 1145.83,1032.05 1149.77,1022 1181.26,1022 1185.2,1011.95 1189.14,1006.41 1208.82,1006.41 1212.75,1016.67 1216.69,1006.41 1220.63,1006.41 1224.56,1016.67 1232.44,1016.67 1236.37,1006.41 1244.25,1006.41 1248.18,1016.67 1259.99,1016.67 1271.8,1047.43 1275.74,1047.43 1279.68,1058.78 1283.61,1048.09 1287.55,1048.09 1291.49,1058.78 1295.42,1048.09 1299.36,1052.99 1311.17,1084.39 1315.11,1084.39 1319.04,1073.92 1322.98,1073.92 1330.85,1052.99 1334.79,1052.99 1338.73,1042.52 1354.47,1042.52 1362.35,1063.46 1366.28,1067.94 1370.22,1067.94 1374.16,1063.46 1378.09,1052.99 1382.03,1063.46 1389.9,1063.46 1393.84,1073.92 1397.78,1063.46 1429.27,1063.46 1433.2,1052.99 1437.14,1052.99 1441.08,1042.52 1445.01,1052.99 1448.95,1042.52 1452.89,1042.52 1456.82,1032.05 1460.76,1042.52 1480.44,1042.52 1484.38,1052.99 1488.32,1052.99 1492.25,1048.09 1496.19,1058.78 1500.13,1053.9 1519.81,1053.9 1523.75,1042.97 1527.68,1042.97 1531.62,1053.9 1535.56,1048.09" fill="none" stroke="#727272" stroke-width="3.1" stroke-linecap="round" stroke-linejoin="round" stroke-dasharray="0 7.46"/>
<polyline points="905.7,1252.53 921.45,1252.53 925.38,1262.79 929.32,1262.79 933.26,1273.04 937.19,1273.25 945.07,1273.25 949,1263.2 964.75,1263.2 968.69,1253.15 976.56,1273.25 984.43,1273.25 988.37,1283.3 992.31,1283.3 996.24,1273.25 1000.18,1273.25 1008.05,1253.15 1011.99,1251.89 1015.92,1251.89 1019.86,1262.36 1031.67,1262.36 1035.61,1272.83 1039.54,1272.83 1043.48,1273.04 1047.42,1273.04 1051.35,1283.3 1063.16,1253.15 1067.1,1263.2 1078.91,1263.2 1082.85,1273.25 1090.72,1273.25 1094.66,1263.2 1098.59,1263.2 1102.53,1273.25 1106.47,1273.25 1110.4,1263.2 1114.34,1263.2 1118.28,1253.15 1122.21,1253.15 1126.15,1263.2 1137.96,1263.2 1145.83,1283.3 1181.26,1283.3 1185.2,1273.25 1189.14,1273.04 1193.07,1273.04 1197.01,1262.79 1204.88,1262.79 1208.82,1273.04 1212.75,1262.79 1216.69,1262.79 1220.63,1273.04 1224.56,1252.53 1232.44,1252.53 1236.37,1262.79 1240.31,1262.79 1244.25,1273.04 1248.18,1262.79 1263.93,1262.79 1267.87,1273.04 1275.74,1273.04 1279.68,1261.92 1283.61,1272.61 1287.55,1272.61 1291.49,1261.92 1295.42,1261.92 1299.36,1262.36 1307.23,1262.36 1311.17,1272.83 1315.11,1272.83 1319.04,1251.89 1322.98,1251.89 1326.92,1262.36 1330.85,1251.89 1338.73,1272.83 1354.47,1272.83 1358.41,1262.36 1362.35,1262.36 1366.28,1273.04 1370.22,1273.04 1374.16,1272.83 1378.09,1272.83 1382.03,1262.36 1385.97,1262.36 1389.9,1241.42 1393.84,1230.96 1397.78,1241.42 1417.46,1241.42 1421.39,1230.96 1425.33,1230.96 1429.27,1220.49 1433.2,1230.96 1437.14,1230.96 1441.08,1241.42 1445.01,1241.42 1448.95,1272.83 1456.82,1272.83 1460.76,1262.36 1468.63,1262.36 1472.57,1272.83 1488.32,1272.83 1492.25,1272.61 1496.19,1272.61 1500.13,1272.38 1527.68,1272.38 1531.62,1261.45 1535.56,1261.92" fill="none" stroke="#4a4a4a" stroke-width="2.9" stroke-linejoin="round" stroke-linecap="round"/>
<polyline points="905.7,1252.53 921.45,1252.53 925.38,1262.79 929.32,1262.79 933.26,1273.04 937.19,1273.25 945.07,1273.25 949,1263.2 964.75,1263.2 968.69,1253.15 976.56,1273.25 984.43,1273.25 988.37,1283.3 992.31,1283.3 996.24,1273.25 1000.18,1273.25 1008.05,1253.15 1011.99,1251.89 1015.92,1251.89 1019.86,1262.36 1031.67,1262.36 1035.61,1272.83 1039.54,1272.83 1043.48,1273.04 1047.42,1273.04 1051.35,1283.3 1063.16,1253.15 1067.1,1263.2 1078.91,1263.2 1082.85,1273.25 1090.72,1273.25 1094.66,1263.2 1098.59,1263.2 1102.53,1273.25 1106.47,1273.25 1110.4,1263.2 1114.34,1263.2 1118.28,1253.15 1122.21,1253.15 1126.15,1263.2 1137.96,1263.2 1145.83,1283.3 1181.26,1283.3 1185.2,1273.25 1189.14,1273.04 1193.07,1273.04 1197.01,1262.79 1204.88,1262.79 1208.82,1273.04 1212.75,1262.79 1216.69,1262.79 1220.63,1273.04 1224.56,1252.53 1232.44,1252.53 1236.37,1262.79 1240.31,1262.79 1244.25,1273.04 1248.18,1262.79 1263.93,1262.79 1267.87,1273.04 1275.74,1273.04 1279.68,1261.92 1283.61,1272.61 1287.55,1272.61 1291.49,1261.92 1295.42,1261.92 1299.36,1262.36 1307.23,1262.36 1311.17,1272.83 1315.11,1272.83 1319.04,1251.89 1322.98,1251.89 1326.92,1262.36 1330.85,1251.89 1338.73,1272.83 1354.47,1272.83 1358.41,1262.36 1362.35,1262.36 1366.28,1273.04 1370.22,1273.04 1374.16,1272.83 1378.09,1272.83 1382.03,1262.36 1385.97,1262.36 1389.9,1241.42 1393.84,1230.96 1397.78,1241.42 1417.46,1241.42 1421.39,1230.96 1425.33,1230.96 1429.27,1220.49 1433.2,1230.96 1437.14,1230.96 1441.08,1241.42 1445.01,1241.42 1448.95,1272.83 1456.82,1272.83 1460.76,1262.36 1468.63,1262.36 1472.57,1272.83 1488.32,1272.83 1492.25,1272.61 1496.19,1272.61 1500.13,1272.38 1527.68,1272.38 1531.62,1261.45 1535.56,1261.92" fill="none" stroke="#f1f1f1" stroke-width="1.1" stroke-linejoin="round" stroke-linecap="round"/>
<polyline points="905.7,1119.22 929.32,1119.22 933.26,1098.71 937.19,1102.4 945.07,1102.4 949,1122.5 960.81,1122.5 964.75,1112.45 980.5,1112.45 984.43,1122.5 992.31,1122.5 996.24,1132.55 1000.18,1132.55 1004.12,1122.5 1008.05,1132.55 1011.99,1136.74 1015.92,1126.27 1019.86,1105.33 1039.54,1105.33 1043.48,1108.96 1047.42,1119.22 1051.35,1112.45 1063.16,1142.6 1067.1,1142.6 1071.04,1152.65 1074.97,1152.65 1078.91,1142.6 1106.47,1142.6 1110.4,1162.7 1114.34,1152.65 1122.21,1152.65 1130.09,1172.75 1137.96,1172.75 1145.83,1152.65 1149.77,1162.7 1173.39,1162.7 1177.33,1172.75 1181.26,1172.75 1185.2,1182.8 1189.14,1191 1193.07,1191 1197.01,1201.26 1204.88,1201.26 1208.82,1191 1216.69,1191 1220.63,1180.75 1224.56,1191 1232.44,1191 1236.37,1201.26 1240.31,1201.26 1244.25,1191 1259.99,1191 1263.93,1180.75 1267.87,1160.24 1271.8,1149.98 1275.74,1149.98 1279.68,1144.31 1295.42,1144.31 1299.36,1136.74 1307.23,1115.8 1311.17,1094.86 1315.11,1094.86 1319.04,1126.27 1326.92,1126.27 1330.85,1147.21 1354.47,1147.21 1358.41,1157.67 1362.35,1147.21 1366.28,1129.47 1370.22,1129.47 1374.16,1136.74 1385.97,1136.74 1389.9,1157.67 1405.65,1157.67 1409.58,1168.14 1417.46,1168.14 1421.39,1178.61 1425.33,1178.61 1429.27,1189.08 1437.14,1189.08 1441.08,1199.55 1445.01,1189.08 1448.95,1157.67 1468.63,1157.67 1472.57,1147.21 1480.44,1147.21 1484.38,1136.74 1488.32,1136.74 1492.25,1133.62 1496.19,1122.93 1500.13,1119.44 1519.81,1119.44 1523.75,1130.37 1531.62,1130.37 1535.56,1133.62" fill="none" stroke="#636363" stroke-width="3.2" stroke-linecap="round" stroke-linejoin="round" stroke-dasharray="3.65 8.45 0 8.45"/>
<polyline points="905.7,1160.24 933.26,1160.24 937.19,1152.65 968.69,1152.65 976.56,1132.55 980.5,1132.55 984.43,1122.5 988.37,1122.5 992.31,1132.55 1008.05,1132.55 1011.99,1136.74 1027.73,1136.74 1031.67,1147.21 1039.54,1147.21 1043.48,1139.73 1047.42,1139.73 1051.35,1152.65 1098.59,1152.65 1102.53,1162.7 1173.39,1162.7 1177.33,1152.65 1181.26,1152.65 1185.2,1162.7 1189.14,1160.24 1212.75,1160.24 1216.69,1170.49 1232.44,1170.49 1236.37,1160.24 1275.74,1160.24 1279.68,1165.69 1291.49,1165.69 1295.42,1176.39 1299.36,1178.61 1330.85,1178.61 1334.79,1168.14 1354.47,1168.14 1358.41,1157.67 1362.35,1157.67 1366.28,1160.24 1370.22,1160.24 1374.16,1157.67 1378.09,1168.14 1405.65,1168.14 1409.58,1157.67 1437.14,1157.67 1441.08,1147.21 1445.01,1147.21 1448.95,1157.67 1452.89,1157.67 1456.82,1168.14 1488.32,1168.14 1492.25,1176.39 1496.19,1176.39 1500.13,1184.98 1531.62,1184.98 1535.56,1187.08" fill="none" stroke="#4c4c4c" stroke-width="2.35" stroke-linejoin="round" stroke-linecap="round"/>
<text transform="translate(878.9 1290.7) scale(1 1.08)" font-size="25.8" text-anchor="end" font-weight="bold">0</text>
<text transform="translate(878.9 1240.45) scale(1 1.08)" font-size="25.8" text-anchor="end" font-weight="bold">10</text>
<text transform="translate(878.9 1190.2) scale(1 1.08)" font-size="25.8" text-anchor="end" font-weight="bold">20</text>
<text transform="translate(878.9 1139.95) scale(1 1.08)" font-size="25.8" text-anchor="end" font-weight="bold">30</text>
<text transform="translate(878.9 1089.7) scale(1 1.08)" font-size="25.8" text-anchor="end" font-weight="bold">40</text>
<text transform="translate(878.9 1039.45) scale(1 1.08)" font-size="25.8" text-anchor="end" font-weight="bold">50</text>
<text transform="translate(878.9 989.2) scale(1 1.08)" font-size="25.8" text-anchor="end" font-weight="bold">60</text>
<text transform="translate(878.9 938.95) scale(1 1.08)" font-size="25.8" text-anchor="end" font-weight="bold">70</text>
<path d="M892.4 905.47V1309.38M888.5 1308.42H1548.49M884.7 1283.3H892.4M884.7 1233.05H892.4M884.7 1182.8H892.4M884.7 1132.55H892.4M884.7 1082.3H892.4M884.7 1032.05H892.4M884.7 981.8H892.4M884.7 931.55H892.4M888.5 1308.42H892.4M888.5 1258.17H892.4M888.5 1207.92H892.4M888.5 1157.67H892.4M888.5 1107.42H892.4M888.5 1057.17H892.4M888.5 1006.92H892.4M888.5 956.67H892.4M888.5 906.42H892.4M905 1308.42v8.9M931.26 1308.42v4.4M957.53 1308.42v4.4M983.79 1308.42v8.9M1010.06 1308.42v4.4M1036.33 1308.42v4.4M1062.59 1308.42v8.9M1088.86 1308.42v4.4M1115.12 1308.42v4.4M1141.38 1308.42v8.9M1167.65 1308.42v4.4M1193.91 1308.42v4.4M1220.18 1308.42v8.9M1246.44 1308.42v4.4M1272.71 1308.42v4.4M1298.97 1308.42v8.9M1325.24 1308.42v4.4M1351.51 1308.42v4.4M1377.77 1308.42v8.9M1404.04 1308.42v4.4M1430.3 1308.42v4.4M1456.57 1308.42v8.9M1482.83 1308.42v4.4M1509.1 1308.42v4.4M1535.36 1308.42v8.9" stroke="#0a0a0a" stroke-width="1.9" fill="none"/>
<text transform="translate(905.2 1343.9) scale(1 1.1)" font-size="27.1" text-anchor="middle" font-weight="bold">0</text>
<text transform="translate(984 1343.9) scale(1 1.1)" font-size="27.1" text-anchor="middle" font-weight="bold">30</text>
<text transform="translate(1062.79 1343.9) scale(1 1.1)" font-size="27.1" text-anchor="middle" font-weight="bold">60</text>
<text transform="translate(1141.59 1343.9) scale(1 1.1)" font-size="27.1" text-anchor="middle" font-weight="bold">90</text>
<text transform="translate(1220.38 1343.9) scale(1 1.1)" font-size="27.1" text-anchor="middle" font-weight="bold">120</text>
<text transform="translate(1299.17 1343.9) scale(1 1.1)" font-size="27.1" text-anchor="middle" font-weight="bold">150</text>
<text transform="translate(1377.97 1343.9) scale(1 1.1)" font-size="27.1" text-anchor="middle" font-weight="bold">180</text>
<text transform="translate(1456.77 1343.9) scale(1 1.1)" font-size="27.1" text-anchor="middle" font-weight="bold">210</text>
<text transform="translate(1535.56 1343.9) scale(1 1.1)" font-size="27.1" text-anchor="middle" font-weight="bold">240</text>
<text transform="translate(1221.3 1395.5)" font-size="33.3" text-anchor="middle" stroke="#000" stroke-width="0.7" stroke-linejoin="round">Time [min]</text>
</g>
<text transform="translate(1605.2 860)" font-size="33.1" stroke="#000" stroke-width="0.6" stroke-linejoin="round">Legend:</text>
<text transform="translate(1700 920.4)" font-size="30" stroke="#000" stroke-width="1" stroke-linejoin="round" letter-spacing="0.4">Mesenchymal</text>
<text transform="translate(1700 979.2)" font-size="30" stroke="#000" stroke-width="1" stroke-linejoin="round" letter-spacing="0.4">Polygonal and bigonal</text>
<text transform="translate(1700 1036.9)" font-size="30" stroke="#000" stroke-width="1" stroke-linejoin="round" letter-spacing="0.4">Amoeboid</text>
<text transform="translate(1700 1094.9)" font-size="30" stroke="#000" stroke-width="1" stroke-linejoin="round" letter-spacing="0.4">Unidentified</text>
<path d="M1623.6 911.9H1684.7" stroke="#505050" stroke-width="3" stroke-linecap="round" fill="none"/>
<path d="M1623.9 970.7H1686" stroke="#7d7d7d" stroke-width="4" stroke-linecap="round" stroke-dasharray="0 9.3" fill="none"/>
<path d="M1624.2 1028.1H1681" stroke="#4d4d4d" stroke-width="4" stroke-linecap="round" stroke-dasharray="5 10.45 0 10.45" fill="none"/>
<path d="M1624.3 1085.9H1684.7" stroke="#555" stroke-width="4.4" stroke-linecap="round" fill="none"/>
<path d="M1624.3 1085.9H1684.7" stroke="#d2d2d2" stroke-width="2.4" stroke-linecap="round" fill="none"/>
</g>
</svg>
</body>
</html>
